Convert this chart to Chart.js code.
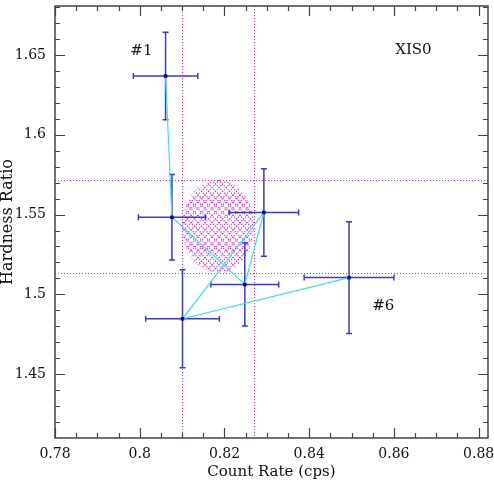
<!DOCTYPE html>
<html>
<head>
<meta charset="utf-8">
<script src="https://cdn.jsdelivr.net/npm/chart.js@4.4.1/dist/chart.umd.min.js"></script>
<style>
    html, body { margin: 0; padding: 0; background: #fff; }
    #wrap { width: 494px; height: 480px; }
</style>
</head>
<body>
<div id="wrap"><canvas id="hrChart"></canvas></div>
<script>
// Observations in time order (#1 ... #6)
const obsLabels = ['#1', '#2', '#3', '#4', '#5', '#6'];
const countRate = [0.8061, 0.8076, 0.8248, 0.8293, 0.8101, 0.8494];
const countRateErr = [0.0076, 0.0079, 0.0080, 0.0082, 0.0087, 0.0106];
const hardness = [1.6368, 1.5483, 1.5062, 1.5513, 1.4847, 1.5105];
const hardnessErr = [0.0274, 0.0268, 0.0260, 0.0274, 0.0307, 0.0350];

// Mean and 1-sigma range
const meanRate = 0.8185, sigmaRate = 0.0085;
const meanHardness = 1.5427, sigmaHardness = 0.029;

// Axis ranges and tick steps
const xRange = [0.78, 0.8822];
const yRange = [1.41, 1.6807];
const xSteps = [0.02, 0.005];
const ySteps = [0.05, 0.01];

// Text labels on the plot
const notes = [
    { text: '#1', x: 0.8004, y: 1.6525 },
    { text: 'XIS0', x: 0.8646, y: 1.6530 },
    { text: '#6', x: 0.8575, y: 1.4928 }
];

const FONT = '"DejaVu Serif", "Liberation Serif", serif';
const MAGENTA = '#d62ad6';
const ERR_BLUE = '#3a3ad2';

const fmt = v => String(parseFloat(v.toFixed(4)));

const overlay = {
    id: 'overlay',
    beforeDatasetsDraw(chart) {
        const { ctx, chartArea: a, scales: { x, y } } = chart;
        ctx.save();
        ctx.beginPath();
        ctx.rect(a.left, a.top, a.right - a.left, a.bottom - a.top);
        ctx.clip();

        // hatched 1-sigma ellipse
        const cx = x.getPixelForValue(meanRate);
        const cy = y.getPixelForValue(meanHardness);
        const rx = Math.abs(x.getPixelForValue(meanRate + sigmaRate) - cx);
        const ry = Math.abs(y.getPixelForValue(meanHardness + sigmaHardness) - cy);
        ctx.save();
        ctx.beginPath();
        ctx.ellipse(cx, cy, rx, ry, 0, 0, Math.PI * 2);
        ctx.clip();
        ctx.strokeStyle = MAGENTA;
        ctx.lineWidth = 1.2;
        ctx.setLineDash([1.2, 1.4]);
        const span = rx + ry + 10;
        for (let d = -2 * span; d <= 2 * span; d += 7) {
            ctx.beginPath();
            ctx.moveTo(cx + d - span, cy - span);
            ctx.lineTo(cx + d + span, cy + span);
            ctx.stroke();
            ctx.beginPath();
            ctx.moveTo(cx + d + span, cy - span);
            ctx.lineTo(cx + d - span, cy + span);
            ctx.stroke();
        }
        ctx.restore();

        // dotted sigma lines
        ctx.strokeStyle = MAGENTA;
        ctx.lineWidth = 1;
        ctx.setLineDash([1, 2]);
        [meanRate - sigmaRate, meanRate + sigmaRate].forEach(v => {
            const px = Math.round(x.getPixelForValue(v)) + 0.5;
            ctx.beginPath();
            ctx.moveTo(px, a.top);
            ctx.lineTo(px, a.bottom);
            ctx.stroke();
        });
        [meanHardness - sigmaHardness, meanHardness + sigmaHardness].forEach(v => {
            const py = Math.round(y.getPixelForValue(v)) + 0.5;
            ctx.beginPath();
            ctx.moveTo(a.left, py);
            ctx.lineTo(a.right, py);
            ctx.stroke();
        });
        ctx.setLineDash([]);

        // error bars
        ctx.strokeStyle = ERR_BLUE;
        ctx.lineWidth = 1.5;
        const cap = 3;
        countRate.forEach((v, i) => {
            const px = x.getPixelForValue(v);
            const py = y.getPixelForValue(hardness[i]);
            const x0 = x.getPixelForValue(v - countRateErr[i]);
            const x1 = x.getPixelForValue(v + countRateErr[i]);
            const y0 = y.getPixelForValue(hardness[i] - hardnessErr[i]);
            const y1 = y.getPixelForValue(hardness[i] + hardnessErr[i]);
            ctx.beginPath();
            ctx.moveTo(x0, py); ctx.lineTo(x1, py);
            ctx.moveTo(x0, py - cap); ctx.lineTo(x0, py + cap);
            ctx.moveTo(x1, py - cap); ctx.lineTo(x1, py + cap);
            ctx.moveTo(px, y0); ctx.lineTo(px, y1);
            ctx.moveTo(px - cap, y0); ctx.lineTo(px + cap, y0);
            ctx.moveTo(px - cap, y1); ctx.lineTo(px + cap, y1);
            ctx.stroke();
        });
        ctx.restore();
    },
    afterDraw(chart) {
        const { ctx, chartArea: a, scales: { x, y } } = chart;
        ctx.save();
        ctx.strokeStyle = '#444';
        ctx.lineWidth = 1.5;
        ctx.strokeRect(a.left, a.top, a.right - a.left, a.bottom - a.top);

        // inward ticks on all four sides
        ctx.lineWidth = 1.2;
        ctx.beginPath();
        for (let v = xRange[0]; v <= xRange[1] + 1e-9; v += xSteps[1]) {
            const major = Math.abs(v / xSteps[0] - Math.round(v / xSteps[0])) < 1e-6;
            const len = major ? 10 : 5;
            const px = Math.round(x.getPixelForValue(v)) + 0.5;
            ctx.moveTo(px, a.bottom); ctx.lineTo(px, a.bottom - len);
            ctx.moveTo(px, a.top); ctx.lineTo(px, a.top + len);
        }
        for (let v = 1.42; v <= yRange[1] + 1e-9; v += ySteps[1]) {
            const major = Math.abs(v / ySteps[0] - Math.round(v / ySteps[0])) < 1e-6;
            const len = major ? 10 : 5;
            const py = Math.round(y.getPixelForValue(v)) + 0.5;
            ctx.moveTo(a.left, py); ctx.lineTo(a.left + len, py);
            ctx.moveTo(a.right, py); ctx.lineTo(a.right - len, py);
        }
        ctx.stroke();

        // annotations
        ctx.fillStyle = '#111';
        ctx.font = '15px ' + FONT;
        ctx.textAlign = 'center';
        ctx.textBaseline = 'middle';
        notes.forEach(n => {
            ctx.fillText(n.text, x.getPixelForValue(n.x), y.getPixelForValue(n.y));
        });
        ctx.restore();
    }
};

const ctx = document.getElementById('hrChart').getContext('2d');

new Chart(ctx, {
    type: 'scatter',
    data: {
        labels: obsLabels,
        datasets: [{
            data: countRate.map((v, i) => ({ x: v, y: hardness[i] })),
            showLine: true,
            borderColor: '#45dde6',
            borderWidth: 1.2,
            pointStyle: 'rect',
            pointRadius: 2.5,
            pointBackgroundColor: '#0c0c78',
            pointBorderColor: '#0c0c78',
            pointBorderWidth: 0
        }]
    },
    options: {
        responsive: true,
        maintainAspectRatio: false,
        animation: false,
        layout: { padding: { top: 6, right: 6, left: 0, bottom: 0 } },
        plugins: {
            legend: { display: false },
            tooltip: { enabled: false }
        },
        scales: {
            x: {
                type: 'linear',
                min: xRange[0],
                max: xRange[1],
                grid: { display: false },
                border: { display: false },
                ticks: {
                    stepSize: xSteps[0],
                    includeBounds: false,
                    autoSkip: false,
                    maxRotation: 0,
                    padding: 0,
                    color: '#111',
                    font: { family: FONT, size: 14 },
                    callback: v => fmt(v)
                },
                title: {
                    display: true,
                    text: 'Count Rate (cps)',
                    color: '#111',
                    padding: { top: 0, bottom: 0 },
                    font: { family: FONT, size: 15, lineHeight: 1 }
                },
                afterFit: s => { s.height = 42; s.paddingLeft = 0; s.paddingRight = 0; }
            },
            y: {
                type: 'linear',
                min: yRange[0],
                max: yRange[1],
                grid: { display: false },
                border: { display: false },
                ticks: {
                    stepSize: ySteps[0],
                    includeBounds: false,
                    autoSkip: false,
                    padding: 1,
                    color: '#111',
                    font: { family: FONT, size: 14 },
                    callback: v => fmt(v)
                },
                title: {
                    display: true,
                    text: 'Hardness Ratio',
                    color: '#111',
                    padding: { top: 0, bottom: 0 },
                    font: { family: FONT, size: 16, lineHeight: 1 }
                },
                afterFit: s => { s.width = 55; s.paddingTop = 0; s.paddingBottom = 0; }
            }
        }
    },
    plugins: [overlay]
});
</script>
</body>
</html>
